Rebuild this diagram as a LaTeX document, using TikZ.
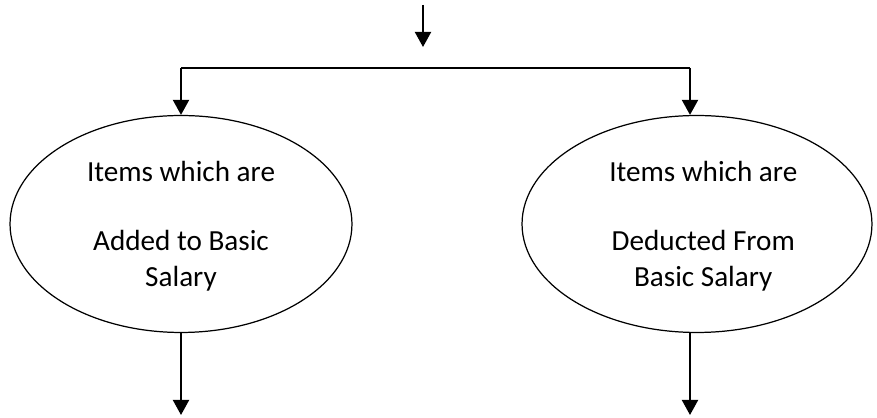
\documentclass[tikz,border=0pt]{standalone}
\usepackage{fontspec}
\setmainfont{Carlito}
\usetikzlibrary{shapes.geometric,arrows.meta,positioning}

\begin{document}
\begin{tikzpicture}[x=0.02cm,y=-0.02cm,>={Triangle[width=0.32cm,length=0.3cm]},
    font=\fontsize{16.6}{20.5}\selectfont]
  \tikzstyle{oval}=[draw,ellipse,line width=0.7pt,inner sep=0pt,align=center,minimum height=4.34cm]
  \tikzstyle{flow}=[line width=1.1pt]
  \useasboundingbox (0,0) rectangle (877,418);

  % the two ovals
  \node[oval,minimum width=6.84cm] (added) at (181,224) {\rule{0pt}{0.5cm}Items which are\\[19pt]Added to Basic\\Salary};
  \node[oval,minimum width=7.0cm] (deducted) at (697,224) {\rule{0pt}{0.5cm}\hspace*{0.25cm}Items which are\\[19pt]\hspace*{0.25cm}Deducted From\\\hspace*{0.25cm}Basic Salary};

  % split line
  \coordinate (in) at (423,5);
  \coordinate (inend) at (423,47);
  \coordinate (barL) at (181,68);
  \coordinate (barR) at (690,68);
  \coordinate (addout) at (181,415);
  \coordinate (dedout) at (690,415);

  \draw[flow,->] (in) -- (inend);
  \draw[flow] (barL) -- (barR);
  \draw[flow,->] (barL) -- (added.north);
  \draw[flow,->] (barR) -- (barR |- deducted.north);
  \draw[flow,->] (added.south) -- (addout);
  \draw[flow,->] (barR |- deducted.south) -- (dedout);
\end{tikzpicture}
\end{document}
